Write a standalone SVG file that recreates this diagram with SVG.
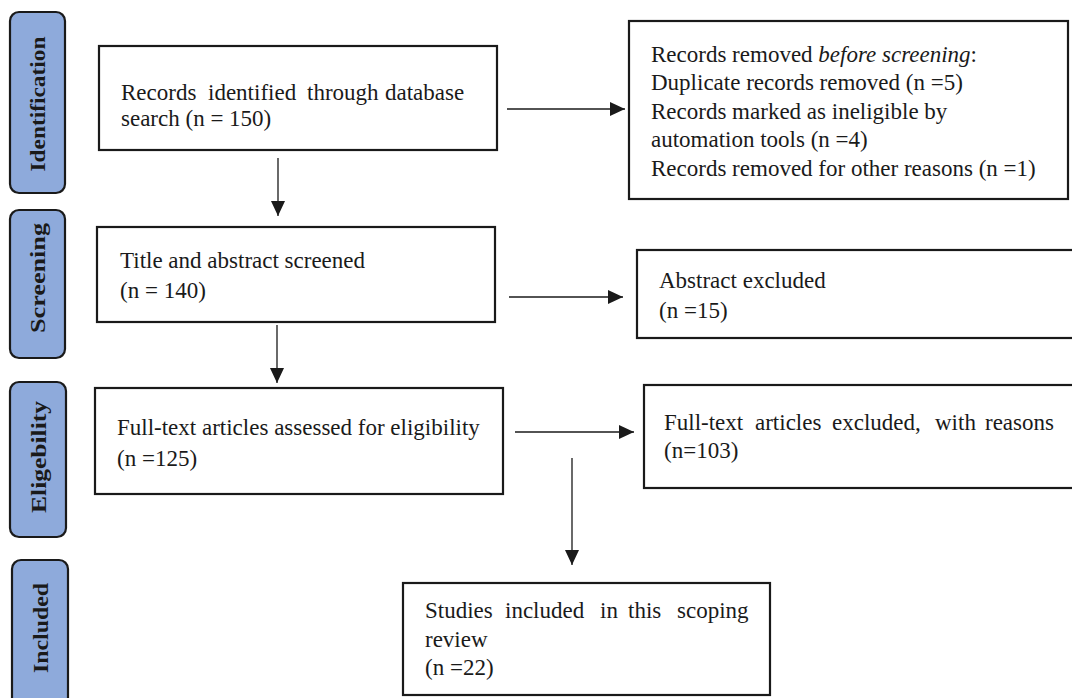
<svg xmlns="http://www.w3.org/2000/svg" width="1072" height="698" viewBox="0 0 1072 698">
<style>
.bg{fill:#ffffff}
.stage{fill:#8eaadb;stroke:#1a1a1a;stroke-width:2.2}
.stage-t{font-family:"Liberation Serif","Times New Roman",serif;font-weight:bold;font-size:22px;fill:#1a1a1a;text-anchor:middle}
.box{fill:#ffffff;stroke:#1a1a1a;stroke-width:2.2}
.t{font-family:"Liberation Serif","Times New Roman",serif;font-size:23px;fill:#1a1a1a}
.conn line{stroke:#1a1a1a;stroke-width:1.3;fill:none}
</style>
<defs>
<marker id="ah" markerUnits="userSpaceOnUse" markerWidth="16" markerHeight="14" refX="15" refY="7" orient="auto">
<path d="M0,0 L15,7 L0,14 z" fill="#1a1a1a"/>
</marker>
</defs>
<rect class="bg" x="0" y="0" width="1072" height="698"/>

<g id="stage-identification">
<rect class="stage" x="10" y="12" width="55" height="181" rx="9"/>
<text class="stage-t" transform="translate(45,104) rotate(-90)" textLength="135" lengthAdjust="spacingAndGlyphs">Identification</text>
</g>
<g id="stage-screening">
<rect class="stage" x="10" y="210" width="55" height="148" rx="9"/>
<text class="stage-t" transform="translate(45,278) rotate(-90)" textLength="110" lengthAdjust="spacingAndGlyphs">Screening</text>
</g>
<g id="stage-eligibility">
<rect class="stage" x="10" y="382" width="56" height="155" rx="9"/>
<text class="stage-t" transform="translate(46,457) rotate(-90)" textLength="112" lengthAdjust="spacingAndGlyphs">Eligebility</text>
</g>
<g id="stage-included">
<rect class="stage" x="12" y="560" width="56" height="150" rx="9"/>
<text class="stage-t" transform="translate(48,628) rotate(-90)" textLength="90" lengthAdjust="spacingAndGlyphs">Included</text>
</g>

<g id="n-identified">
<rect class="box" x="99" y="46" width="398" height="104"/>
<text class="t" y="100"><tspan x="121">Records</tspan><tspan x="208">identified</tspan><tspan x="307">through</tspan><tspan x="385">database</tspan></text>
<text class="t" x="121" y="126">search (n = 150)</text>
</g>

<g id="n-removed">
<rect class="box" x="629" y="21" width="439" height="178"/>
<text class="t" x="651" y="62">Records removed <tspan font-style="italic">before screening</tspan>:</text>
<text class="t" x="651" y="90">Duplicate records removed (n =5)</text>
<text class="t" x="651" y="119">Records marked as ineligible by</text>
<text class="t" x="651" y="147">automation tools (n =4)</text>
<text class="t" x="651" y="176">Records removed for other reasons (n =1)</text>
</g>

<g id="n-screened">
<rect class="box" x="97" y="227" width="398" height="95"/>
<text class="t" x="120" y="268">Title and abstract screened</text>
<text class="t" x="120" y="298">(n = 140)</text>
</g>

<g id="n-abstract-excluded">
<rect class="box" x="637" y="250" width="440" height="88"/>
<text class="t" x="659" y="288">Abstract excluded</text>
<text class="t" x="659" y="318">(n =15)</text>
</g>

<g id="n-fulltext">
<rect class="box" x="95" y="388" width="408" height="106"/>
<text class="t" x="117" y="435">Full-text articles assessed for eligibility</text>
<text class="t" x="117" y="466">(n =125)</text>
</g>

<g id="n-fulltext-excluded">
<rect class="box" x="644" y="385" width="440" height="103"/>
<text class="t" y="430"><tspan x="664">Full-text</tspan><tspan x="755">articles</tspan><tspan x="832">excluded,</tspan><tspan x="935">with</tspan><tspan x="985">reasons</tspan></text>
<text class="t" x="664" y="458">(n=103)</text>
</g>

<g id="n-included">
<rect class="box" x="403" y="583" width="367" height="112"/>
<text class="t" y="618"><tspan x="425">Studies</tspan><tspan x="505">included</tspan><tspan x="600">in</tspan><tspan x="628">this</tspan><tspan x="677">scoping</tspan></text>
<text class="t" x="425" y="647">review</text>
<text class="t" x="425" y="675">(n =22)</text>
</g>

<g id="connectors" class="conn">
<line x1="507" y1="109" x2="625" y2="109" marker-end="url(#ah)"/>
<line x1="278" y1="158" x2="278" y2="216" marker-end="url(#ah)"/>
<line x1="509" y1="297" x2="623" y2="297" marker-end="url(#ah)"/>
<line x1="277" y1="325" x2="277" y2="383" marker-end="url(#ah)"/>
<line x1="515" y1="432" x2="634" y2="432" marker-end="url(#ah)"/>
<line x1="572" y1="458" x2="572" y2="565" marker-end="url(#ah)"/>
</g>
</svg>
